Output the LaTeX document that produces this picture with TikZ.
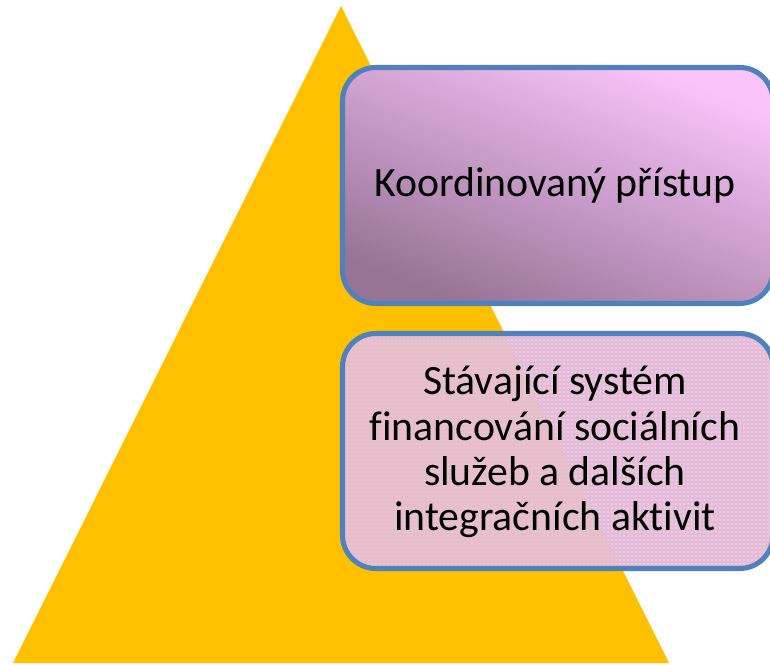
\documentclass[tikz,border=0pt]{standalone}
\usepackage{fontspec}
\setmainfont{Carlito}[Ligatures={NoCommon}]
\usetikzlibrary{patterns}
\definecolor{tri}{RGB}{255,192,0}
\definecolor{bord}{RGB}{79,129,189}
\definecolor{gradlight}{RGB}{250,196,250}
\definecolor{graddark}{RGB}{150,116,150}
\definecolor{pinkfill}{RGB}{228,188,216}
\tikzset{
  boxborder/.style={draw=bord, line width=3.8pt, rounded corners=25pt},
  boxtext/.style={align=center, text=black, font=\fontsize{31.3}{34}\selectfont}
}
\begin{document}
\begin{tikzpicture}[x=0.75pt,y=0.75pt]
\useasboundingbox (0,0) rectangle (770,664);
% triangle
\fill[tri] (341,658) -- (669,1) -- (13,1) -- cycle;
% box 1
\begin{scope}
\clip (0,0) rectangle (770,664);
\shade[rounded corners=25pt, top color=gradlight, bottom color=graddark, shading angle=-22]
  (342.5,360.5) rectangle (773,596.5);
\draw[boxborder] (342.5,360.5) rectangle (773,596.5);
% box 2
\fill[pinkfill, rounded corners=25pt] (342.5,95.5) rectangle (773,330.5);
\fill[pattern=dots, pattern color=white, rounded corners=25pt] (342.5,95.5) rectangle (773,330.5);
\begin{scope}
  \clip (341,658) -- (669,1) -- (13,1) -- cycle;
  \fill[pattern=dots, pattern color=tri, rounded corners=25pt] (342.5,95.5) rectangle (773,330.5);
\end{scope}
\draw[boxborder] (342.5,95.5) rectangle (773,330.5);
\end{scope}
\node[boxtext] (b1) at (555,479) {Koordinovaný přístup};
\node[boxtext] (b2) at (555,212) {Stávající systém\\financování sociálních\\služeb a dalších\\integračních aktivit};
\end{tikzpicture}
\end{document}
